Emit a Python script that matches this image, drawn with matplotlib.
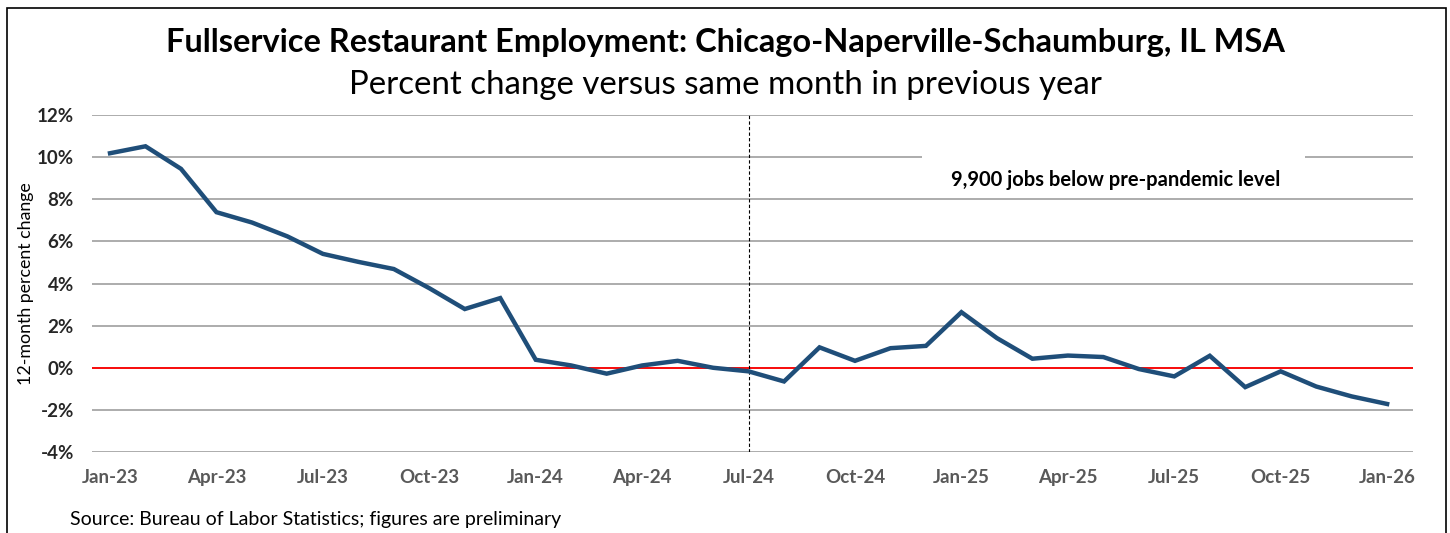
import matplotlib
matplotlib.use("Agg")
import matplotlib.pyplot as plt
from matplotlib.patches import Rectangle
from matplotlib.ticker import FuncFormatter

plt.rcParams['font.family'] = ['Lato', 'DejaVu Sans']

# 12-month percent change, Jan-23 .. Jan-26
meses = ['Jan-23', 'Feb-23', 'Mar-23', 'Apr-23', 'May-23', 'Jun-23', 'Jul-23', 'Aug-23',
         'Sep-23', 'Oct-23', 'Nov-23', 'Dec-23', 'Jan-24', 'Feb-24', 'Mar-24', 'Apr-24',
         'May-24', 'Jun-24', 'Jul-24', 'Aug-24', 'Sep-24', 'Oct-24', 'Nov-24', 'Dec-24',
         'Jan-25', 'Feb-25', 'Mar-25', 'Apr-25', 'May-25', 'Jun-25', 'Jul-25', 'Aug-25',
         'Sep-25', 'Oct-25', 'Nov-25', 'Dec-25', 'Jan-26']
cambio = [10.19, 10.52, 9.45, 7.39, 6.90, 6.24, 5.41, 5.03, 4.69, 3.78, 2.79, 3.31,
          0.38, 0.11, -0.28, 0.11, 0.33, 0.00, -0.17, -0.65, 0.97, 0.33, 0.93, 1.04,
          2.64, 1.41, 0.43, 0.58, 0.51, -0.06, -0.41, 0.57, -0.92, -0.17, -0.89, -1.36, -1.72]
y_ticks = [-4, -2, 0, 2, 4, 6, 8, 10, 12]
mes_vline = 'Jul-24'
nota = '9,900 jobs below pre-pandemic level'

fig = plt.figure(figsize=(14.5, 5.33), dpi=100)
ax = fig.add_axes([0.0634, 0.152, 0.9111, 0.632])

x = list(range(len(meses)))
ax.plot(x, cambio, color='#1f4e79', lw=3.2, solid_joinstyle='miter', zorder=4)
ax.axhline(0, color='#ff0000', lw=1.3, zorder=3)
ax.axvline(meses.index(mes_vline), color='black', lw=0.8, ls=(0, (3, 2)), zorder=3)

ax.set_ylim(-4, 12)
ax.set_yticks(y_ticks)
ax.yaxis.set_major_formatter(FuncFormatter(lambda v, p: f'{v:.0f}%'))
ax.grid(axis='y', color='#a6a6a6', lw=1.3)
ax.set_axisbelow(True)

ax.set_xlim(-0.51, 36.73)
ax.set_xticks(x[::3])
ax.set_xticklabels(meses[::3])
ax.tick_params(length=0)
ax.tick_params(axis='x', pad=12, labelsize=13.5, labelcolor='#595959')
ax.tick_params(axis='y', pad=13, labelsize=13.5, labelcolor='#262626')
for lab in ax.get_xticklabels() + ax.get_yticklabels():
    lab.set_fontweight('bold')
for s in ax.spines.values():
    s.set_visible(False)

ax.set_ylabel('12-month percent change', fontsize=12.8, labelpad=2)

# white box behind the note (hides the 10% gridline)
ax.add_patch(Rectangle((22.88, 8.45), 10.8, 2.05, facecolor='white', edgecolor='none', zorder=2))
ax.text(28.35, 8.9, nota, ha='center', va='center', fontsize=14.5, fontweight='bold', zorder=5)

fig.text(0.5, 0.921, 'Fullservice Restaurant Employment: Chicago-Naperville-Schaumburg, IL MSA',
         ha='center', va='center', fontsize=23.4, fontweight='bold')
fig.text(0.5, 0.84, 'Percent change versus same month in previous year',
         ha='center', va='center', fontsize=23.8)
fig.text(0.048, 0.026, 'Source: Bureau of Labor Statistics; figures are preliminary',
         ha='left', va='center', fontsize=14)

fig.patches.append(Rectangle((0.005, -0.01), 0.9925, 0.995, transform=fig.transFigure,
                             fill=False, edgecolor='black', lw=1.2))

fig.savefig('out.png', dpi=100)
